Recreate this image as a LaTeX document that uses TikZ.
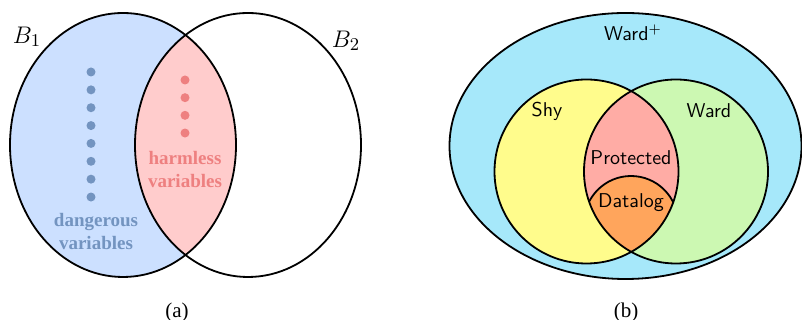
\documentclass[tikz,border=0pt]{standalone}
\usepackage{fontspec}
\newfontfamily\varfont{Liberation Serif}
\usetikzlibrary{positioning}

\definecolor{dangerblue}{RGB}{204,224,255}
\definecolor{dangertext}{RGB}{115,148,192}
\definecolor{harmpink}{RGB}{255,204,204}
\definecolor{harmtext}{RGB}{238,128,128}
\definecolor{wardplus}{RGB}{166,232,250}
\definecolor{shyyellow}{RGB}{255,252,140}
\definecolor{wardgreen}{RGB}{204,248,178}
\definecolor{protpink}{RGB}{255,172,165}
\definecolor{datalogorange}{RGB}{255,165,92}

\begin{document}
\begin{tikzpicture}[x=0.5pt, y=0.5pt,
    outline/.style={draw=black, line width=0.9pt},
    varlabel/.style={font=\varfont\bfseries\fontsize{9.5}{11.5}\selectfont, align=center},
    setlabel/.style={font=\sffamily},
    setname/.style={font=\fontsize{13}{15}\selectfont},
    caption/.style={font=\varfont\fontsize{10.5}{12}\selectfont}
  ]
  \useasboundingbox (0,0) rectangle (802,320);

  % (a)
  \coordinate (b1) at (123,175);
  \coordinate (b2) at (248,175);
  \fill[dangerblue] (b1) ellipse [x radius=113, y radius=132];
  \begin{scope}
    \clip (b1) ellipse [x radius=113, y radius=132];
    \fill[harmpink] (b2) ellipse [x radius=113, y radius=132];
  \end{scope}
  \draw[outline] (b1) ellipse [x radius=113, y radius=132];
  \draw[outline] (b2) ellipse [x radius=113, y radius=132];
  \node[setname] (lb1) at (27,283) {$B_1$};
  \node[setname] (lb2) at (346,279) {$B_2$};
  \foreach \i in {0,...,7}
    \fill[dangertext] (91,248-17.86*\i) circle [radius=4.5];
  \foreach \i in {0,...,3}
    \fill[harmtext] (185,240-17.67*\i) circle [radius=4.5];
  \node[varlabel, text=dangertext] (dangerous) at (96,88.5) {dangerous\\variables};
  \node[varlabel, text=harmtext] (harmless) at (185,150.5) {harmless\\variables};
  \node[caption] (capa) at (177,8) {(a)};

  % (b)
  \coordinate (wp) at (625.5,174);
  \coordinate (shy) at (586.5,148.5);
  \coordinate (ward) at (676,148.5);
  \coordinate (dl) at (631,97);
  \fill[wardplus] (wp) ellipse [x radius=176, y radius=133];
  \draw[outline] (wp) ellipse [x radius=176, y radius=133];
  \fill[shyyellow] (shy) circle [radius=92];
  \fill[wardgreen] (ward) circle [radius=92];
  \begin{scope}
    \clip (shy) circle [radius=92];
    \clip (ward) circle [radius=92];
    \fill[protpink] (ward) circle [radius=92];
    \fill[datalogorange] (dl) circle [radius=47];
    \draw[outline] (dl) circle [radius=47];
  \end{scope}
  \draw[outline] (shy) circle [radius=92];
  \draw[outline] (ward) circle [radius=92];
  \node[setlabel] (lwp) at (633,287) {Ward$^+$};
  \node[setlabel] (lshy) at (547,209) {Shy};
  \node[setlabel] (lward) at (709,209) {Ward};
  \node[setlabel] (lprot) at (631,162) {Protected};
  \node[setlabel] (ldl) at (631,117) {Datalog};
  \node[caption] (capb) at (626,8) {(b)};
\end{tikzpicture}
\end{document}
